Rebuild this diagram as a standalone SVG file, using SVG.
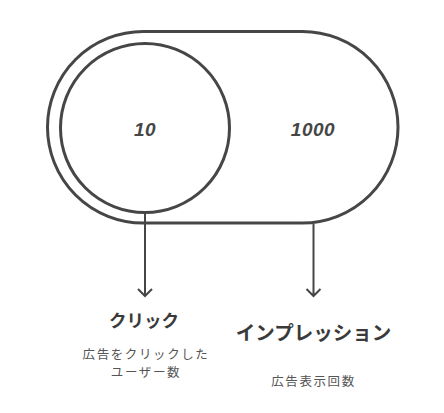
<svg xmlns="http://www.w3.org/2000/svg" width="444" height="413" viewBox="0 0 444 413">
<style>
.shape{fill:none;stroke:#464646;stroke-width:3}
.conn{fill:none;stroke:#464646;stroke-width:2}
.num{font-family:"Liberation Sans",Arial,sans-serif;font-weight:bold;font-style:italic;font-size:19px;fill:#464646;text-anchor:middle;letter-spacing:0.5px}
.title{font-family:"Noto Sans CJK JP","Noto Sans",sans-serif;font-weight:bold;fill:#3a3a3a;text-anchor:middle}
.sub{font-family:"Noto Sans CJK JP","Noto Sans",sans-serif;font-size:12.5px;letter-spacing:1.6px;fill:#555;text-anchor:middle}
</style>
<rect width="444" height="413" fill="#fff"/>
<g id="impressions">
<rect class="shape" x="47.5" y="31.5" width="350.5" height="191.5" rx="95.75"/>
<text class="num" x="313" y="136">1000</text>
</g>
<g id="clicks">
<circle class="shape" cx="145" cy="128" r="84.5"/>
<text class="num" x="145" y="136">10</text>
</g>
<g id="connectors">
<path class="conn" d="M145 213V296M138 289L145 296L152 289"/>
<path class="conn" d="M313.5 224V296M306.5 289L313.5 296L320.5 289"/>
</g>
<g id="click-label">
<text class="title" x="144" y="327" font-size="17.5">クリック</text>
<text class="sub" x="146" y="358.5">広告をクリックした</text>
<text class="sub" x="146" y="377">ユーザー数</text>
</g>
<g id="impression-label">
<text class="title" x="313.5" y="340" font-size="19.5">インプレッション</text>
<text class="sub" x="313.5" y="386">広告表示回数</text>
</g>
</svg>
